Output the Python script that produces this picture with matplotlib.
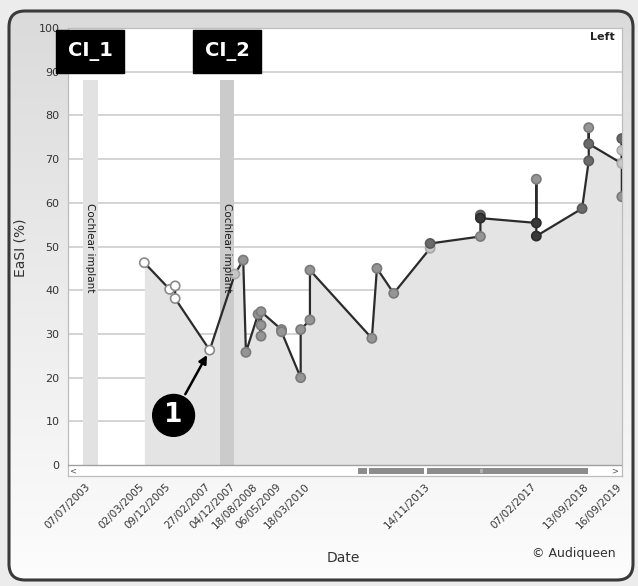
import numpy as np
import matplotlib
matplotlib.use("Agg")
import matplotlib.pyplot as plt
from matplotlib.patches import FancyBboxPatch, Rectangle
from matplotlib.transforms import ScaledTranslation
from datetime import datetime, timedelta

W, H = 638, 586

# measurements (date, EaSI %) in plotting order
dates = ["02/03/2005", "09/12/2005", "08/02/2006", "08/02/2006", "27/02/2007",
         "04/12/2007", "06/03/2008", "05/04/2008", "18/08/2008", "20/09/2008",
         "20/09/2008", "20/09/2008", "06/05/2009", "06/05/2009", "05/12/2009",
         "05/12/2009", "18/03/2010", "18/03/2010", "05/02/2012", "01/04/2012",
         "05/10/2012", "14/11/2013", "14/11/2013", "27/05/2015", "27/05/2015",
         "27/05/2015", "07/02/2017", "07/02/2017", "07/02/2017", "01/07/2018",
         "13/09/2018", "13/09/2018", "13/09/2018", "16/09/2019", "16/09/2019",
         "16/09/2019", "16/09/2019"]
easi = [46.3, 40.2, 41.0, 38.1, 26.3,
        43.7, 46.9, 25.8, 34.5, 29.5,
        32.0, 35.1, 31.0, 30.5, 20.0,
        31.0, 33.2, 44.6, 29.0, 45.0,
        39.3, 49.6, 50.7, 52.3, 57.2,
        56.5, 55.4, 65.4, 52.4, 58.7,
        69.6, 77.2, 73.5, 69.0, 74.7,
        72.0, 61.4]
shade = ["w", "w", "w", "w", "w",
         "l", "g", "g", "g", "g",
         "g", "g", "g", "g", "g",
         "g", "g", "g", "g", "g",
         "g", "l", "m", "g", "m",
         "d", "d", "g", "d", "m",
         "m", "g", "m", "l", "m",
         "l", "g"]

tick_labels = ["07/07/2003", "02/03/2005", "09/12/2005", "27/02/2007", "04/12/2007",
               "18/08/2008", "06/05/2009", "18/03/2010", "14/11/2013", "07/02/2017",
               "13/09/2018", "16/09/2019"]

implant_names = ["CI_1", "CI_2"]
implant_start = ["20/04/2003", "25/06/2007"]
implant_end = ["30/09/2003", "28/11/2007"]


def d(s):
    return datetime.strptime(s, "%d/%m/%Y")


face = {"w": "white", "l": "#c6c6c6", "g": "#959595", "m": "#6a6a6a", "d": "#383838"}
edge = {"w": "#8a8a8a", "l": "#a8a8a8", "g": "#7a7a7a", "m": "#595959", "d": "#2a2a2a"}

x = [d(s) for s in dates]
fig = plt.figure(figsize=(W / 100, H / 100), dpi=100)
fig.patch.set_facecolor("#ececec")

# rounded frame with light gradient behind everything
bg = fig.add_axes([0, 0, 1, 1], zorder=-5)
bg.set_xlim(0, W)
bg.set_ylim(H, 0)
bg.axis("off")
grad = np.linspace(0, 1, 256)[:, None]
cm = matplotlib.colors.LinearSegmentedColormap.from_list("bgg", ["#dadada", "#fdfdfd"])
img = bg.imshow(grad, cmap=cm, extent=[0, W, H, 0], aspect="auto")
frame = FancyBboxPatch((9, 11), 624, 569, boxstyle="round,pad=0,rounding_size=16",
                       fc="none", ec="#3a3a3a", lw=2.2)
bg.add_patch(frame)
img.set_clip_path(frame)

ax = fig.add_axes([68 / W, 1 - 476 / H, (622 - 68) / W, (476 - 28) / H])
ax.set_facecolor("white")
x0 = d("07/07/2003") - timedelta(days=245)
x1 = d("16/09/2019") + timedelta(days=2)
ax.set_xlim(x0, x1)
ax.set_ylim(-2.5, 100)

for v in range(10, 100, 10):
    ax.axhline(v, color="#cdcdcd", lw=1.2, zorder=1)

# implant bands
for i, nm in enumerate(implant_names):
    col = "#e2e2e2" if i == 0 else "#cbcbcb"
    ax.axvspan(d(implant_start[i]), d(implant_end[i]), ymin=2.5 / 102.5, ymax=90.5 / 102.5,
               color=col, lw=0, zorder=2)
    mid = d(implant_start[i]) + (d(implant_end[i]) - d(implant_start[i])) / 2
    ax.text(mid, 60, "Cochlear implant", rotation=270, ha="center", va="top",
            fontsize=7.5, color="#1a1a1a", zorder=6)
    ax.annotate(nm, xy=(mid, 94.6), ha="center", va="center", fontsize=14,
                fontweight="bold", color="white", annotation_clip=False, zorder=12,
                bbox=dict(boxstyle="square,pad=0.6", fc="black", ec="black"))

ax.fill_between(x, easi, 0, color="#e4e4e4", lw=0, zorder=1.5)
ax.plot(x, easi, color="#2b2b2b", lw=1.6, zorder=4)
ax.scatter(x, easi, s=44, c=[face[s] for s in shade], edgecolors=[edge[s] for s in shade],
           linewidths=1.2, zorder=5, clip_on=True)

# annotation at the minimum before CI_2
ax.annotate("1", xy=(d("27/02/2007"), 26.3), xytext=(-26, -47), textcoords="offset points",
            ha="center", va="center", fontsize=19, fontweight="bold", color="white",
            bbox=dict(boxstyle="circle,pad=0.3", fc="black", ec="black"),
            arrowprops=dict(arrowstyle="-|>", color="black", lw=1.8, shrinkB=4,
                            mutation_scale=12), zorder=11)

# scrollbar strip below the plot
ax.add_patch(Rectangle((0, 0), 1, 2.5, transform=ax.get_xaxis_transform(), fc="white",
                       ec="none", zorder=6))
ax.axhline(0, color="#a0a0a0", lw=1, zorder=7)
for a, b in [(0.5235, 0.5397), (0.5433, 0.6426), (0.648, 0.9386)]:
    ax.add_patch(Rectangle((a, 0.0045), b - a, 0.0135, transform=ax.transAxes,
                           fc="#8c8c8c", ec="none", zorder=8))
ax.text(0.009, 0.011, "<", transform=ax.transAxes, fontsize=6, color="#555555",
        ha="center", va="center", zorder=9)
ax.text(0.987, 0.011, ">", transform=ax.transAxes, fontsize=6, color="#555555",
        ha="center", va="center", zorder=9)
ax.text(0.7475, 0.011, "III", transform=ax.transAxes, fontsize=3.5, color="#dddddd",
        ha="center", va="center", zorder=9)

for sp in ax.spines.values():
    sp.set_color("#bdbdbd")
    sp.set_linewidth(0.9)

ax.set_yticks(range(0, 101, 10))
ax.tick_params(axis="y", length=0, pad=6, labelsize=8, labelcolor="#333333")
ax.set_xticks([d(s) for s in tick_labels])
ax.set_xticklabels(tick_labels, rotation=45, ha="right", rotation_mode="anchor")
ax.tick_params(axis="x", length=0, pad=4, labelsize=7.5, labelcolor="#333333")
shift = ScaledTranslation(-0.05, 0, fig.dpi_scale_trans)
for lbl in ax.get_xticklabels():
    lbl.set_transform(lbl.get_transform() + shift)

ax.set_ylabel("EaSI (%)", fontsize=10, color="#333333")
ax.yaxis.set_label_coords((27 - 68) / 554, (476 - 248) / 448)
ax.set_xlabel("Date", fontsize=10, color="#333333")
ax.xaxis.set_label_coords((343 - 68) / 554, (476 - 551) / 448)

ax.text(0.987, 0.99, "Left", transform=ax.transAxes, ha="right", va="top",
        fontsize=8, fontweight="bold", color="#222222")
fig.text(616 / W, 1 - 554 / H, "\u00a9 Audiqueen", ha="right", va="center",
         fontsize=9, color="#333333")

fig.savefig("out.png", dpi=100, facecolor=fig.get_facecolor())
